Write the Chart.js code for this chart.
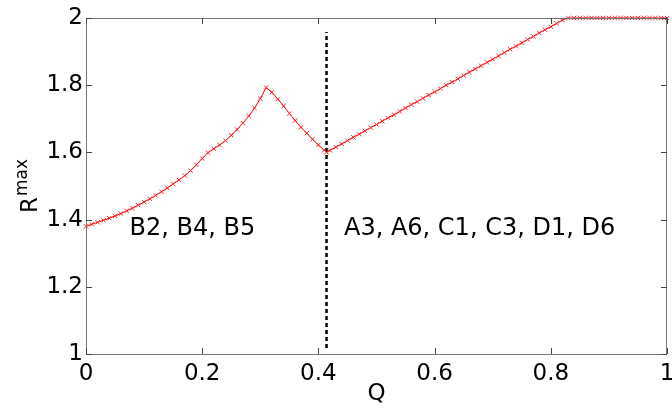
<!DOCTYPE html>
<html>
<head>
<meta charset="utf-8">
<script src="https://cdn.jsdelivr.net/npm/chart.js@4"></script>
<style>
    body { margin: 0; background: #fff; }
    #box { width: 672px; height: 410px; }
</style>
</head>
<body>
<div id="box"><canvas id="myChart"></canvas></div>
<script>
const qValues = [
    0.00, 0.01, 0.02, 0.03, 0.04, 0.05, 0.06, 0.07, 0.08, 0.09,
    0.10, 0.11, 0.12, 0.13, 0.14, 0.15, 0.16, 0.17, 0.18, 0.19,
    0.20, 0.21, 0.22, 0.23, 0.24, 0.25, 0.26, 0.27, 0.28, 0.29,
    0.30, 0.31, 0.32, 0.33, 0.34, 0.35, 0.36, 0.37, 0.38, 0.39,
    0.40, 0.41, 0.414, 0.42, 0.43, 0.44, 0.45, 0.46, 0.47, 0.48, 0.49,
    0.50, 0.51, 0.52, 0.53, 0.54, 0.55, 0.56, 0.57, 0.58, 0.59,
    0.60, 0.61, 0.62, 0.63, 0.64, 0.65, 0.66, 0.67, 0.68, 0.69,
    0.70, 0.71, 0.72, 0.73, 0.74, 0.75, 0.76, 0.77, 0.78, 0.79,
    0.80, 0.81, 0.82, 0.83, 0.84, 0.85, 0.86, 0.87, 0.88, 0.89,
    0.90, 0.91, 0.92, 0.93, 0.94, 0.95, 0.96, 0.97, 0.98, 0.99, 1.00
]
const rMax = [
    1.380, 1.386, 1.392, 1.398, 1.404, 1.411, 1.418, 1.426, 1.434, 1.443,
    1.452, 1.462, 1.472, 1.483, 1.494, 1.506, 1.518, 1.531, 1.546, 1.563,
    1.582, 1.599, 1.611, 1.622, 1.635, 1.651, 1.668, 1.687, 1.708, 1.732,
    1.760, 1.793, 1.779, 1.759, 1.738, 1.716, 1.695, 1.675, 1.657, 1.639,
    1.622, 1.607, 1.600, 1.606, 1.616, 1.625, 1.635, 1.645, 1.654, 1.664, 1.674,
    1.683, 1.693, 1.703, 1.712, 1.722, 1.732, 1.742, 1.751, 1.761, 1.771,
    1.780, 1.790, 1.800, 1.809, 1.819, 1.829, 1.839, 1.848, 1.858, 1.868,
    1.877, 1.887, 1.897, 1.907, 1.916, 1.926, 1.936, 1.945, 1.955, 1.965,
    1.974, 1.984, 1.994, 2.000, 2.000, 2.000, 2.000, 2.000, 2.000, 2.000,
    2.000, 2.000, 2.000, 2.000, 2.000, 2.000, 2.000, 2.000, 2.000, 2.000, 2.000
]
const dividerQ = [0.414, 0.414]
const dividerR = [1.018, 1.958]
const xTicks = [0, 0.2, 0.4, 0.6, 0.8, 1]
const yTicks = [1, 1.2, 1.4, 1.6, 1.8, 2]
const regionLabels = [
    { text: "B2, B4, B5", q: 0.075, r: 1.372 },
    { text: "A3, A6, C1, C3, D1, D6", q: 0.444, r: 1.372 }
]

Chart.defaults.font.family = "DejaVu Sans"
Chart.defaults.color = "#000"

// frame, inward ticks, region texts and the R^max title
const decorations = {
    id: "decorations",
    afterDraw(chart) {
        const ctx = chart.ctx
        const a = chart.chartArea
        const x = chart.scales.x
        const y = chart.scales.y
        ctx.save()
        ctx.strokeStyle = "#777"
        ctx.lineWidth = 1
        ctx.strokeRect(a.left + 0.5, a.top + 0.5, a.right - a.left - 1, a.bottom - a.top)

        ctx.strokeStyle = "#444"
        ctx.beginPath()
        xTicks.forEach(v => {
            const px = Math.round(x.getPixelForValue(v)) + 0.5
            ctx.moveTo(px, a.bottom); ctx.lineTo(px, a.bottom - 6)
            ctx.moveTo(px, a.top); ctx.lineTo(px, a.top + 6)
        })
        yTicks.forEach(v => {
            const py = Math.round(y.getPixelForValue(v)) + 0.5
            ctx.moveTo(a.left, py); ctx.lineTo(a.left + 6, py)
            ctx.moveTo(a.right, py); ctx.lineTo(a.right - 6, py)
        })
        ctx.stroke()

        ctx.fillStyle = "#000"
        ctx.font = "24px 'DejaVu Sans'"
        ctx.textAlign = "left"
        ctx.textBaseline = "middle"
        regionLabels.forEach(l => {
            ctx.fillText(l.text, x.getPixelForValue(l.q), y.getPixelForValue(l.r))
        })

        ctx.translate(37, 213)
        ctx.rotate(-Math.PI / 2)
        ctx.textBaseline = "alphabetic"
        ctx.font = "23px 'DejaVu Sans'"
        ctx.fillText("R", 0, 0)
        const w = ctx.measureText("R").width
        ctx.font = "17px 'DejaVu Sans'"
        ctx.fillText("max", w + 1, -10)
        ctx.restore()
    }
}

const ctx = document.getElementById("myChart")
new Chart(ctx, {
    type: "scatter",
    data: {
        datasets: [
            {
                data: qValues.map((q, i) => ({ x: q, y: rMax[i] })),
                showLine: true,
                borderColor: "#ff0000",
                borderWidth: 1,
                pointStyle: "crossRot",
                pointRadius: 3,
                pointBorderWidth: 1,
                pointBorderColor: "#ff2020",
                clip: false
            },
            {
                data: dividerQ.map((q, i) => ({ x: q, y: dividerR[i] })),
                showLine: true,
                borderColor: "#000",
                borderWidth: 2.5,
                borderDash: [4, 3],
                pointRadius: 0
            }
        ]
    },
    options: {
        responsive: true,
        maintainAspectRatio: false,
        animation: false,
        layout: { padding: { left: 0, right: 1, top: 18, bottom: 0 } },
        plugins: {
            legend: { display: false },
            tooltip: { enabled: false }
        },
        scales: {
            x: {
                type: "linear",
                min: 0,
                max: 1,
                grid: { display: false, drawTicks: false },
                border: { display: false },
                ticks: {
                    stepSize: 0.2,
                    padding: 6,
                    maxRotation: 0,
                    font: { size: 23 },
                    callback: v => String(+v.toFixed(1))
                },
                title: {
                    display: true,
                    text: "Q",
                    font: { size: 23 },
                    padding: { top: 0, bottom: 2 }
                },
                afterFit: s => { s.height = 56; s.paddingLeft = 0; s.paddingRight = 0 }
            },
            y: {
                min: 1,
                max: 2,
                grid: { display: false, drawTicks: false },
                border: { display: false },
                ticks: {
                    stepSize: 0.2,
                    padding: 3,
                    font: { size: 23 },
                    callback: v => String(+v.toFixed(1))
                },
                afterFit: s => { s.width = 86 }
            }
        }
    },
    plugins: [decorations]
})
</script>
</body>
</html>
